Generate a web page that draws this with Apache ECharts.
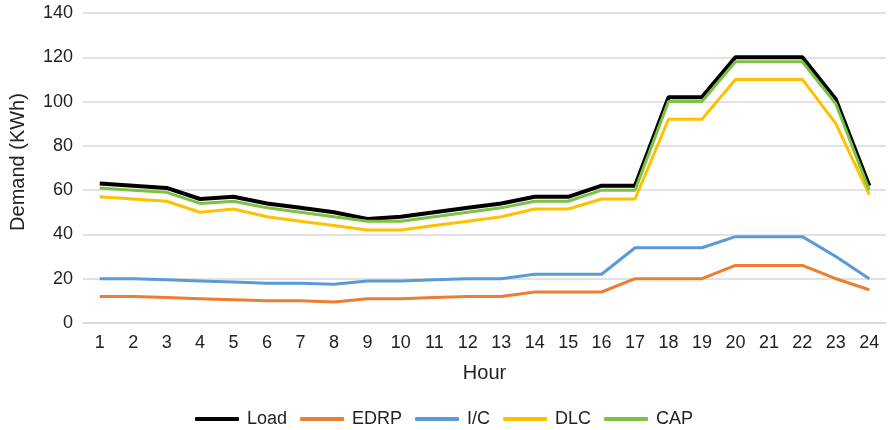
<!DOCTYPE html>
<html>
<head>
<meta charset="utf-8">
<script src="https://cdn.jsdelivr.net/npm/echarts@6/dist/echarts.min.js"></script>
<style>html,body{margin:0;padding:0;background:#fff}#c{width:888px;height:430px}</style>
</head>
<body>
<div id="c"></div>
<script>
const hours = ['1','2','3','4','5','6','7','8','9','10','11','12','13','14','15','16','17','18','19','20','21','22','23','24'];
const load = [63,62,61,56,57,54,52,50,47,48,50,52,54,57,57,62,62,102,102,120,120,120,101,62];
const edrp = [12,12,11.5,11,10.5,10,10,9.5,11,11,11.5,12,12,14,14,14,20,20,20,26,26,26,20,15];
const ic = [20,20,19.5,19,18.5,18,18,17.5,19,19,19.5,20,20,22,22,22,34,34,34,39,39,39,30,20];
const dlc = [57,56,55,50,51.5,48,46,44,42,42,44,46,48,51.5,51.5,56,56,92,92,110,110,110,90,58];
const cap = [61,60,59,54,55,52,50,48,46,46,48,50,52,55,55,60,60,100,100,118,118,118,99,60];

const font = '"Liberation Sans", Arial, sans-serif';
const chart = echarts.init(document.getElementById('c'));
function s(name, data, color, w) {
  return {name, type:'line', data, symbol:'none', lineStyle:{color, width:w}, itemStyle:{color}, animation:false};
}
chart.setOption({
  animation:false,
  textStyle:{fontFamily:font},
  grid:{left:82, right:2, top:13, bottom:107},
  legend:{
    top:405, left:190, itemWidth:44, itemHeight:4, icon:'roundRect', itemGap:13,
    textStyle:{fontFamily:font, fontSize:18, color:'#222', padding:[0,0,0,3]},
    data:['Load','EDRP','I/C','DLC','CAP']
  },
  xAxis:{
    type:'category', data:hours, boundaryGap:true,
    name:'Hour', nameLocation:'middle', nameGap:40,
    nameTextStyle:{fontFamily:font, fontSize:20, color:'#222'},
    axisLine:{show:true, lineStyle:{color:'#d9d9d9', width:1.5}},
    axisTick:{show:false},
    axisLabel:{fontFamily:font, fontSize:18, color:'#222', margin:11, interval:0}
  },
  yAxis:{
    type:'value', min:0, max:140, interval:20,
    name:'Demand (KWh)', nameLocation:'middle', nameGap:55,
    nameTextStyle:{fontFamily:font, fontSize:20, color:'#222', padding:[0,0,0,12]},
    axisLine:{show:false}, axisTick:{show:false},
    axisLabel:{fontFamily:font, fontSize:18, color:'#222', margin:10},
    splitLine:{lineStyle:{color:'#d9d9d9', width:1.5}}
  },
  series:[
    s('Load', load, '#000000', 4),
    s('EDRP', edrp, '#ED7D31', 3),
    s('I/C', ic, '#5B9BD5', 3),
    s('DLC', dlc, '#FFC000', 3),
    s('CAP', cap, '#7CC242', 3)
  ]
});
</script>
</body>
</html>
